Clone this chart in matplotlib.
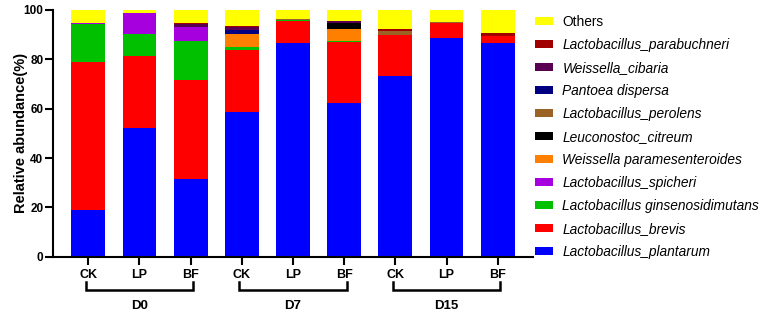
import matplotlib
matplotlib.use("Agg")
import matplotlib.pyplot as plt
import numpy as np

plt.rcParams['font.family'] = ['Liberation Sans', 'DejaVu Sans']

samples = ["CK", "LP", "BF", "CK", "LP", "BF", "CK", "LP", "BF"]
groups = ["D0", "D7", "D15"]

species = [
    "Lactobacillus_plantarum",
    "Lactobacillus_brevis",
    "Lactobacillus ginsenosidimutans",
    "Lactobacillus_spicheri",
    "Weissella paramesenteroides",
    "Leuconostoc_citreum",
    "Lactobacillus_perolens",
    "Pantoea dispersa",
    "Weissella_cibaria",
    "Lactobacillus_parabuchneri",
    "Others",
]

plantarum = [19.0, 52.3, 31.6, 58.5, 86.7, 62.2, 73.4, 88.8, 86.6]
brevis = [59.8, 29.0, 39.9, 25.2, 9.0, 24.8, 16.6, 6.1, 2.8]
ginsenosidimutans = [15.6, 8.9, 15.8, 1.4, 0.4, 0.3, 0.0, 0.0, 0.0]
spicheri = [0.3, 8.4, 5.9, 0.0, 0.0, 0.0, 0.0, 0.0, 0.0]
paramesenteroides = [0.0, 0.0, 0.0, 5.1, 0.0, 5.1, 0.0, 0.0, 0.0]
citreum = [0.0, 0.0, 0.0, 0.0, 0.0, 2.5, 0.0, 0.0, 0.0]
perolens = [0.0, 0.0, 0.0, 0.2, 0.3, 0.0, 1.5, 0.3, 0.0]
pantoea = [0.0, 0.0, 0.0, 1.4, 0.0, 0.0, 0.0, 0.0, 0.0]
cibaria = [0.0, 0.0, 1.1, 1.4, 0.0, 0.5, 0.0, 0.0, 0.0]
parabuchneri = [0.2, 0.0, 0.5, 0.2, 0.0, 0.0, 0.8, 0.0, 1.1]
others = [5.1, 1.4, 5.2, 6.6, 3.6, 4.6, 7.7, 4.8, 9.5]

series = [plantarum, brevis, ginsenosidimutans, spicheri, paramesenteroides,
          citreum, perolens, pantoea, cibaria, parabuchneri, others]
colors = ["#0000FF", "#FF0000", "#00C000", "#A600DE", "#FF8000", "#000000",
          "#9A6224", "#000080", "#5A0050", "#A00000", "#FFFF00"]

fig = plt.figure(figsize=(7.67, 3.16), dpi=100)
ax = fig.add_axes([53 / 767, 1 - 256.7 / 316, 480 / 767, 246.7 / 316])

x = np.arange(len(samples))
bottom = np.zeros(len(samples))
handles = []
for vals, col, name in zip(series, colors, species):
    b = ax.bar(x, vals, width=0.66, bottom=bottom, color=col, linewidth=0, label=name)
    handles.append(b)
    bottom += np.array(vals)

ax.set_xlim(-0.69, 8.69)
ax.set_ylim(0, 100)
ax.set_yticks([0, 20, 40, 60, 80, 100])
ax.set_xticks(x)
ax.set_xticklabels(samples, fontsize=9, fontweight='bold')
for lab in ax.get_yticklabels():
    lab.set_fontweight('bold')
    lab.set_fontsize(8.5)
ax.tick_params(axis='y', length=6, width=1.5, pad=1)
ax.tick_params(axis='x', length=6, width=1.5, pad=3)
for s in ['top', 'right']:
    ax.spines[s].set_visible(False)
for s in ['left', 'bottom']:
    ax.spines[s].set_linewidth(1.5)
ax.set_ylabel("Relative abundance(%)", fontsize=10.5, fontweight='bold')
ax.yaxis.set_label_coords(-0.052, 0.5)

# group brackets
trans = ax.get_xaxis_transform()
for gi, g in enumerate(groups):
    x0 = gi * 3 - 0.05
    x1 = gi * 3 + 2 + 0.05
    ax.plot([x0, x0, x1, x1], [-0.103, -0.135, -0.135, -0.103], color='black',
            lw=1.8, transform=trans, clip_on=False, solid_joinstyle='miter')
    ax.text(gi * 3 + 1, -0.2, g, transform=trans, ha='center', va='center',
            fontsize=9.5, fontweight='bold')

leg = ax.legend(handles[::-1], species[::-1], loc='upper left',
                bbox_to_anchor=(535 / 767, 1 - 15 / 316), bbox_transform=fig.transFigure,
                frameon=False, fontsize=9.9, handlelength=1.3, handleheight=0.55,
                handletextpad=0.7, labelspacing=0.655, borderpad=0, borderaxespad=0)
for t in leg.get_texts():
    if t.get_text() != "Others":
        t.set_fontstyle('italic')

fig.savefig("out.png", dpi=100)
